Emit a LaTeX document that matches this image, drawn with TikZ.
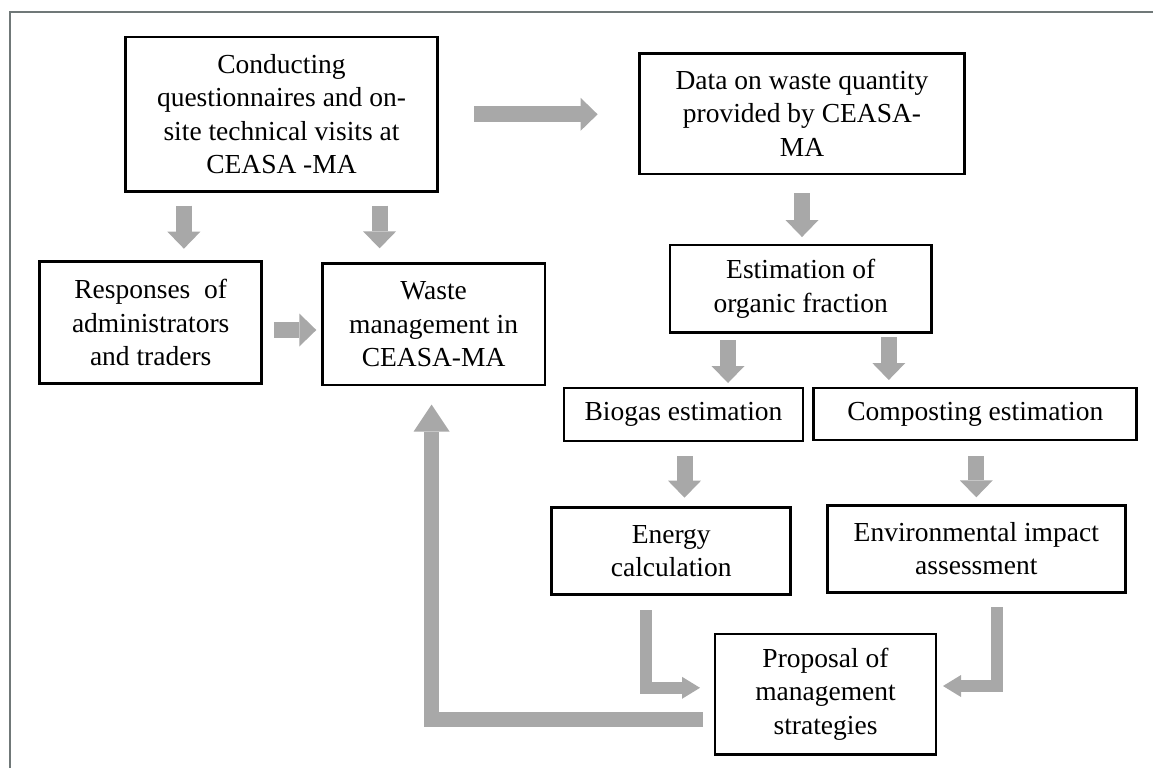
\documentclass[tikz,border=0pt]{standalone}
\usepackage{fontspec}
\setmainfont{Liberation Serif}
\usetikzlibrary{arrows.meta}

\definecolor{arrowgray}{RGB}{168,168,168}
\definecolor{framegray}{RGB}{112,120,120}

\tikzset{
    box/.style={draw, line width=2.8pt, outer sep=0pt, inner sep=0pt, align=center,
        font=\fontsize{27.5}{33.5}\selectfont},
    blk/.style={draw=arrowgray, line width=16pt,
        -{Triangle[length=17pt, width=33pt, line width=0pt]}},
    elbow/.style={draw=arrowgray, line width=12pt, line join=miter,
        -{Triangle[length=18pt, width=22pt, line width=0pt]}},
    back/.style={draw=arrowgray, line width=15pt, line join=miter,
        -{Triangle[length=27pt, width=36pt, line width=0pt]}},
}

\begin{document}
\begin{tikzpicture}[x=1pt, y=-1pt]
    \useasboundingbox (0,0) rectangle (1153,768);

    % Frame
    \draw[framegray, line width=2.5pt, line join=miter] (10,768) -- (10,12) -- (1153,12);

    % Left part
    \node[box, minimum width=311.6pt, minimum height=154.7pt] (visit) at (281.5,114.3)
        {Conducting\\questionnaires and on-\\site technical visits at\\CEASA -MA};
    \node[box, minimum width=222.3pt, minimum height=121.6pt] (resp) at (150.7,322.5)
        {Responses\ \ of\\administrators\\and traders};
    \node[box, minimum width=222.6pt, minimum height=121.7pt] (waste) at (433.6,324.2)
        {Waste\\management in\\CEASA-MA};

    % Right part
    \node[box, minimum width=324.8pt, minimum height=120.7pt] (data) at (802,113.7)
        {Data on waste quantity\\provided by CEASA-\\MA};
    \node[box, minimum width=261.6pt, minimum height=87.3pt] (organic) at (800.7,288.7)
        {Estimation of\\organic fraction};
    \node[box, minimum width=239pt, minimum height=53pt] (biogas) at (683.5,414.5)
        {Biogas estimation};
    \node[box, minimum width=323pt, minimum height=52pt] (compost) at (975.3,414)
        {Composting estimation};
    \node[box, minimum width=239pt, minimum height=86.6pt] (energy) at (671.2,551)
        {Energy\\calculation};
    \node[box, minimum width=298pt, minimum height=87pt] (env) at (976.3,548.8)
        {Environmental impact\\assessment};
    \node[box, minimum width=221pt, minimum height=120.3pt] (prop) at (825.5,694.2)
        {Proposal of\\management\\strategies};

    % Arrows
    \draw[blk, shorten <=37pt, shorten >=42pt] (visit.east) -- (visit.east -| data.west);
    \draw[blk, shorten <=14pt, shorten >=13pt] ([xshift=-97.6pt]visit.south) -- ([xshift=-97.6pt]visit.south |- resp.north);
    \draw[blk, shorten <=14pt, shorten >=15pt] ([xshift=98.1pt]visit.south) -- ([xshift=98.1pt]visit.south |- waste.north);
    \draw[blk, shorten <=12pt, shorten >=6pt] ([yshift=-7.5pt]resp.east) -- ([yshift=-7.5pt]resp.east -| waste.west);
    \draw[blk, shorten <=19pt, shorten >=8pt] (data.south) -- (data.south |- organic.north);
    \draw[blk, shorten <=8pt, shorten >=5pt] ([xshift=-72.7pt]organic.south) -- ([xshift=-72.7pt]organic.south |- biogas.north);
    \draw[blk, shorten <=5pt, shorten >=8pt] ([xshift=88.1pt]organic.south) -- ([xshift=88.1pt]organic.south |- compost.north);
    \draw[blk, shorten <=15pt, shorten >=10pt] ([xshift=1pt]biogas.south) -- ([xshift=1pt]biogas.south |- energy.north);
    \draw[blk, shorten <=16pt, shorten >=8pt] ([xshift=1pt]compost.south) -- ([xshift=1pt]compost.south |- env.north);

    % Elbows into the proposal
    \draw[elbow, shorten <=16pt, shorten >=15pt] ([xshift=-25.4pt]energy.south) |- ([yshift=6.4pt]prop.west);
    \draw[elbow, shorten <=15pt, shorten >=7pt] ([xshift=20.7pt]env.south) |- ([yshift=8.2pt]prop.east);

    % Back to waste management
    \draw[back, shorten <=12pt, shorten >=19.5pt] ([yshift=-25.5pt]prop.west) -| ([xshift=-2pt]waste.south);
\end{tikzpicture}
\end{document}
